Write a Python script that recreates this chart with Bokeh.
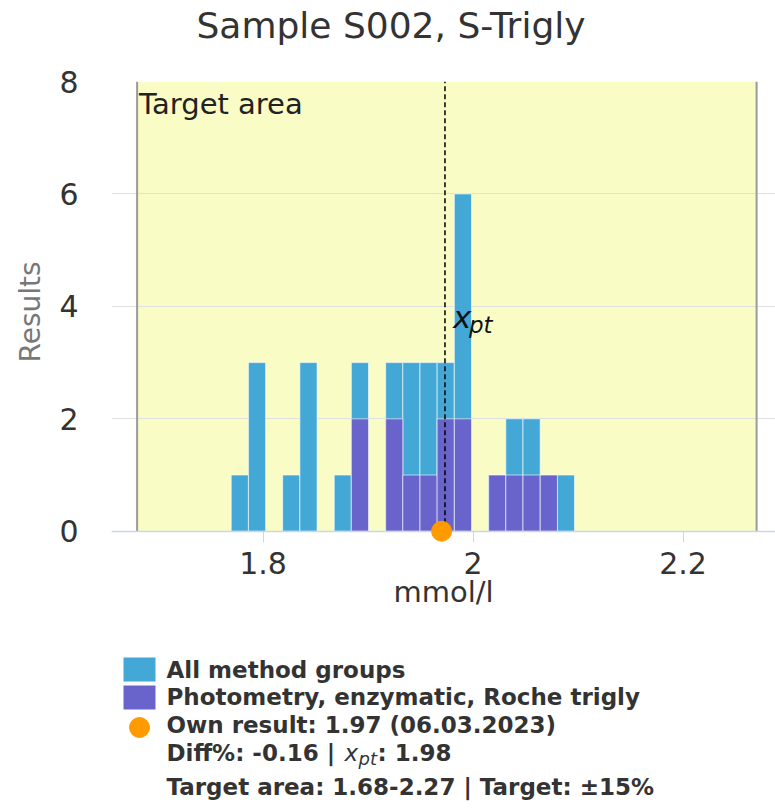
from bokeh.plotting import figure
from bokeh.models import Range1d, FixedTicker
from bokeh.layouts import column
from bokeh.core.properties import value
from bokeh.embed import file_html
from bokeh.resources import INLINE

# ---------------- data ----------------
title_text = "Sample S002, S-Trigly"
x_unit = "mmol/l"
y_title = "Results"
series_names = ["All method groups", "Photometry, enzymatic, Roche trigly"]

bin_centers = [1.7778, 1.7942, 1.8268, 1.8432, 1.8759, 1.8922, 1.9249, 1.9412,
               1.9576, 1.9739, 1.9903, 2.0230, 2.0393, 2.0557, 2.0721, 2.0884]
bin_width = 0.01635
all_counts = [1, 3, 1, 3, 1, 3, 3, 3, 3, 3, 6, 1, 2, 2, 1, 1]
group_counts = [0, 0, 0, 0, 0, 2, 2, 1, 1, 2, 2, 1, 1, 1, 1, 0]

own_result = 1.97
own_date = "06.03.2023"
x_pt = 1.9732
x_pt_text = "1.98"
diff_pct = -0.16
target_lo = 1.68
target_hi = 2.27
target_pct = 15

x_ticks = [1.8, 2.0, 2.2]
x_tick_labels = ["1.8", "2", "2.2"]
y_ticks = [0, 2, 4, 6, 8]

# ---------------- style ----------------
FONT = value("DejaVu Sans")
BLUE = "#44A8D6"
PURPLE = "#6964CB"
ORANGE = "#FF9A00"
YELLOW = "#FAFCC6"
TXT = "#333333"


def blank(height, y0, y1):
    f = figure(width=775, height=height, x_range=Range1d(111, 775), y_range=Range1d(y1, y0),
               output_backend="svg", toolbar_location=None,
               x_axis_type=None, y_axis_type=None,
               min_border_left=111, min_border_right=0, min_border_top=0, min_border_bottom=0)
    f.grid.visible = False
    f.outline_line_color = None
    f.background_fill_color = "white"
    f.border_fill_color = "white"
    return f


# ---------------- title (page pixel coordinates) ----------------
tt = blank(60, 0, 60)
tt.text(x=[196], y=[24.5], text=[title_text], text_font=FONT, text_font_size="36px",
        text_color=TXT, text_baseline="alphabetic", text_align="left")

# ---------------- main plot ----------------
p = figure(width=775, height=570,
           x_range=Range1d(1.6556, 2.2880), y_range=Range1d(-0.2, 8),
           output_backend="svg", toolbar_location=None,
           min_border_left=111, min_border_right=0,
           min_border_top=21, min_border_bottom=88)
p.outline_line_color = None
p.background_fill_color = "white"
p.border_fill_color = "white"

p.xgrid.visible = False
p.ygrid.ticker = FixedTicker(ticks=y_ticks)
p.ygrid.grid_line_color = "#e0e0e0"
p.ygrid.grid_line_width = 1

# target area band
p.quad(left=[target_lo], right=[target_hi], bottom=[y_ticks[0]], top=[y_ticks[-1]],
       fill_color=YELLOW, line_color=None, level="image")
p.segment(x0=[target_lo, target_hi], x1=[target_lo, target_hi],
          y0=[y_ticks[0]] * 2, y1=[y_ticks[-1]] * 2,
          line_color="#9a9a9a", line_width=2)

# histogram bars
lefts = [c - bin_width / 2 for c in bin_centers]
rights = [c + bin_width / 2 for c in bin_centers]
p.quad(left=lefts, right=rights, bottom=0, top=all_counts,
       fill_color=BLUE, line_color="white", line_alpha=0.6, line_width=1)
gl = [l for l, g in zip(lefts, group_counts) if g > 0]
gr = [r for r, g in zip(rights, group_counts) if g > 0]
gt = [g for g in group_counts if g > 0]
p.quad(left=gl, right=gr, bottom=0, top=gt,
       fill_color=PURPLE, line_color="white", line_alpha=0.6, line_width=1)

# x axis line at zero
p.hspan(y=[0], line_color="#ccd6eb", line_width=1.5)

# x_pt dashed line + label
p.segment(x0=[x_pt], x1=[x_pt], y0=[0], y1=[y_ticks[-1]],
          line_color="black", line_dash="5 3", line_width=1.5)
p.text(x=[x_pt], y=[y_ticks[-1]], text=["x"], x_offset=8, y_offset=235,
       text_font=FONT, text_font_style="italic", text_font_size="31px",
       text_color="#111111", text_baseline="alphabetic", text_align="left")
p.text(x=[x_pt], y=[y_ticks[-1]], text=["pt"], x_offset=24, y_offset=243,
       text_font=FONT, text_font_style="italic", text_font_size="23px",
       text_color="#111111", text_baseline="alphabetic", text_align="left")

# own result
p.scatter(x=[own_result], y=[0], size=20, marker="circle",
          fill_color=ORANGE, line_color=ORANGE)

# target area label
p.text(x=[target_lo], y=[y_ticks[-1]], text=["Target area"], x_offset=2, y_offset=22,
       text_font=FONT, text_font_size="29px", text_color="#222222",
       text_baseline="alphabetic", text_align="left")

# axes
xa = p.xaxis[0]
xa.ticker = FixedTicker(ticks=x_ticks)
xa.major_label_overrides = {t: l for t, l in zip(x_ticks, x_tick_labels)}
xa.major_tick_in = 11
xa.major_tick_out = 0
xa.major_tick_line_color = "#ccd6eb"
xa.minor_tick_line_color = None
xa.axis_line_color = None
xa.major_label_text_font = "DejaVu Sans"
xa.major_label_text_font_size = "30px"
xa.major_label_text_color = TXT
xa.major_label_standoff = 9
xa.axis_label = x_unit
xa.axis_label_text_font = "DejaVu Sans"
xa.axis_label_text_font_size = "29px"
xa.axis_label_text_font_style = "normal"
xa.axis_label_text_color = TXT
xa.axis_label_standoff = -2

ya = p.yaxis[0]
ya.ticker = FixedTicker(ticks=y_ticks)
ya.major_tick_line_color = None
ya.minor_tick_line_color = None
ya.axis_line_color = None
ya.major_label_text_font = "DejaVu Sans"
ya.major_label_text_font_size = "30px"
ya.major_label_text_color = TXT
ya.major_label_standoff = 27
ya.axis_label = y_title
ya.axis_label_text_font = "DejaVu Sans"
ya.axis_label_text_font_size = "28px"
ya.axis_label_text_font_style = "normal"
ya.axis_label_text_color = "#777777"
ya.axis_label_standoff = 9

# ---------------- legend (page pixel coordinates) ----------------
lg = blank(178, 630, 808)

lg.quad(left=[123, 123], right=[155, 155], top=[657, 685], bottom=[681, 709],
        fill_color=[BLUE, PURPLE], line_color=None)
lg.scatter(x=[139], y=[727], size=20, marker="circle", fill_color=ORANGE, line_color=ORANGE)

bold = dict(text_font=FONT, text_font_style="bold", text_font_size="23px",
            text_color=TXT, text_baseline="alphabetic", text_align="left")
lines = [series_names[0], series_names[1],
         f"Own result: {own_result:.2f} ({own_date})"]
lg.text(x=[166, 166, 166], y=[669, 696, 724], text=lines, **bold)
lg.text(x=[166], y=[752], text=[f"Diff%: {diff_pct:.2f} | "], **bold)
lg.text(x=[344], y=[752], text=["x"], text_font=FONT, text_font_style="italic",
        text_font_size="23px", text_color=TXT, text_baseline="alphabetic")
lg.text(x=[358], y=[758], text=["pt"], text_font=FONT, text_font_style="italic",
        text_font_size="18px", text_color=TXT, text_baseline="alphabetic")
lg.text(x=[377], y=[752], text=[f": {x_pt_text}"], **bold)
lg.text(x=[166], y=[786],
        text=[f"Target area: {target_lo:.2f}-{target_hi:.2f} | Target: \u00b1{target_pct}%"], **bold)

layout = column(tt, p, lg)
open("out.html", "w").write(file_html(layout, INLINE))
